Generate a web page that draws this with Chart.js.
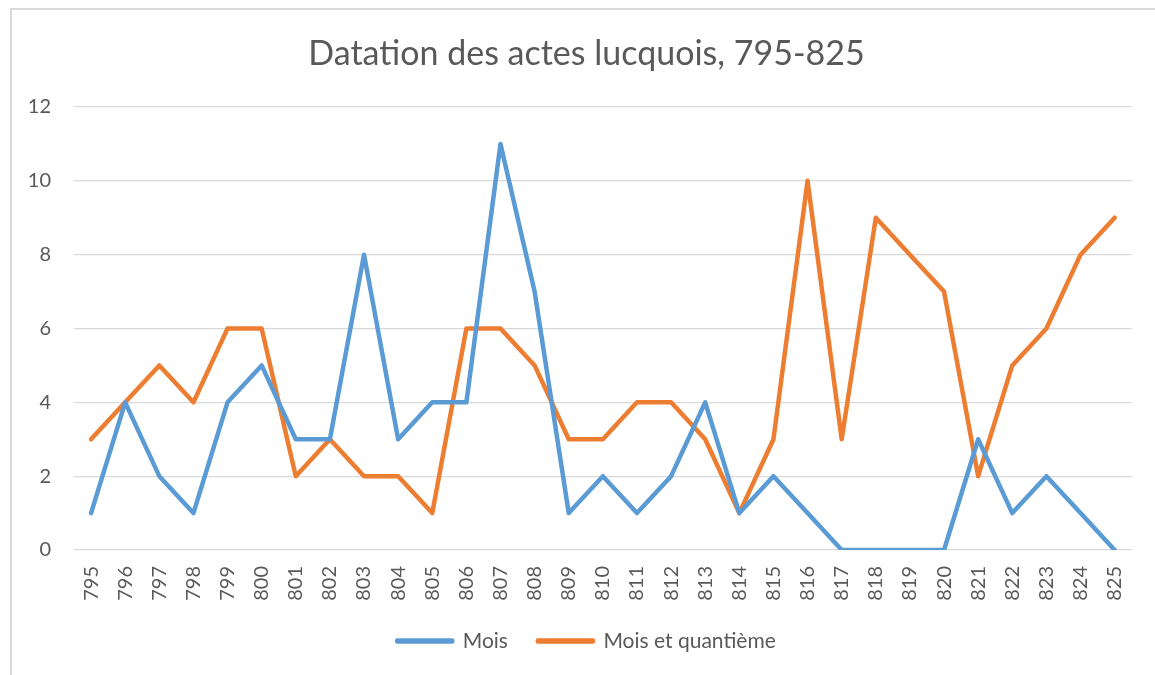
<!DOCTYPE html>
<html>
<head>
<meta charset="utf-8">
<script src="https://cdn.jsdelivr.net/npm/chart.js@4/dist/chart.umd.min.js"></script>
<style>
  html, body { margin: 0; padding: 0; background: #fff; overflow: hidden; }
  #frame { position: absolute; left: 10px; top: 8px; width: 1200px; height: 720px;
           border: 2px solid #d9d9d9; box-sizing: border-box; }
  #wrap { position: absolute; left: 0; top: 0; width: 1155px; height: 675px; }
</style>
</head>
<body>
<div id="frame"></div>
<div id="wrap"><canvas id="chart"></canvas></div>
<script>
/* --- Data --- */
const years = ['795', '796', '797', '798', '799', '800', '801', '802', '803', '804',
  '805', '806', '807', '808', '809', '810', '811', '812', '813', '814', '815',
  '816', '817', '818', '819', '820', '821', '822', '823', '824', '825'];

const mois = [1, 4, 2, 1, 4, 5, 3, 3, 8, 3, 4, 4, 11, 7, 1, 2, 1, 2, 4, 1, 2,
  1, 0, 0, 0, 0, 3, 1, 2, 1, 0];

const moisQuantieme = [3, 4, 5, 4, 6, 6, 2, 3, 2, 2, 1, 6, 6, 5, 3, 3, 4, 4, 3, 1, 3,
  10, 3, 9, 8, 7, 2, 5, 6, 8, 9];

const yTicks = [0, 2, 4, 6, 8, 10, 12];

/* --- Style --- */
const TEXT = '#595959';
const GRID = '#d9d9d9';
const BLUE = '#5B9BD5';
const ORANGE = '#ED7D31';
const FONT = "Lato, 'Open Sans', sans-serif";

function lineSet(label, data, color) {
  return {
    label,
    data,
    borderColor: color,
    backgroundColor: color,
    borderWidth: 4.5,
    borderCapStyle: 'round',
    borderJoinStyle: 'round',
    pointRadius: 0,
    tension: 0,
    fill: false
  };
}

// title and legend sit a bit right of the canvas centre in the original
const shiftBlocks = {
  id: 'shiftBlocks',
  afterLayout(chart) {
    [chart.titleBlock, chart.legend].forEach(b => {
      if (b) { b.left += 20; b.right += 20; }
    });
  }
};

new Chart(document.getElementById('chart'), {
  type: 'line',
  data: {
    labels: years,
    datasets: [
      lineSet('Mois', mois, BLUE),
      lineSet('Mois et quantième', moisQuantieme, ORANGE)
    ]
  },
  plugins: [shiftBlocks],
  options: {
    responsive: true,
    maintainAspectRatio: false,
    animation: false,
    layout: { padding: { left: 0, right: 22, top: 0, bottom: 13.5 } },
    plugins: {
      title: {
        display: true,
        text: 'Datation des actes lucquois, 795-825',
        color: TEXT,
        font: { family: FONT, size: 34, weight: 'normal' },
        padding: { top: 34, bottom: 32.2 }
      },
      legend: {
        position: 'bottom',
        labels: {
          color: TEXT,
          font: { family: FONT, size: 21 },
          boxWidth: 55,
          boxHeight: 1,
          padding: 30
        }
      },
      tooltip: { enabled: false }
    },
    scales: {
      x: {
        offset: true,
        grid: { display: false, drawTicks: false },
        border: { display: false },
        ticks: {
          color: TEXT,
          font: { family: FONT, size: 20 },
          minRotation: 90,
          maxRotation: 90,
          autoSkip: false,
          padding: 16
        },
        afterFit: function (scale) { scale.height = 50.5; }
      },
      y: {
        min: 0,
        max: 12,
        afterBuildTicks: function (scale) {
          scale.ticks = yTicks.map(v => ({ value: v }));
        },
        grid: { color: GRID, lineWidth: 1.3, drawTicks: false },
        border: { display: false },
        ticks: {
          color: TEXT,
          font: { family: FONT, size: 20 },
          padding: 23
        },
        afterFit: function (scale) { scale.width = 74; }
      }
    }
  }
});
</script>
</body>
</html>
